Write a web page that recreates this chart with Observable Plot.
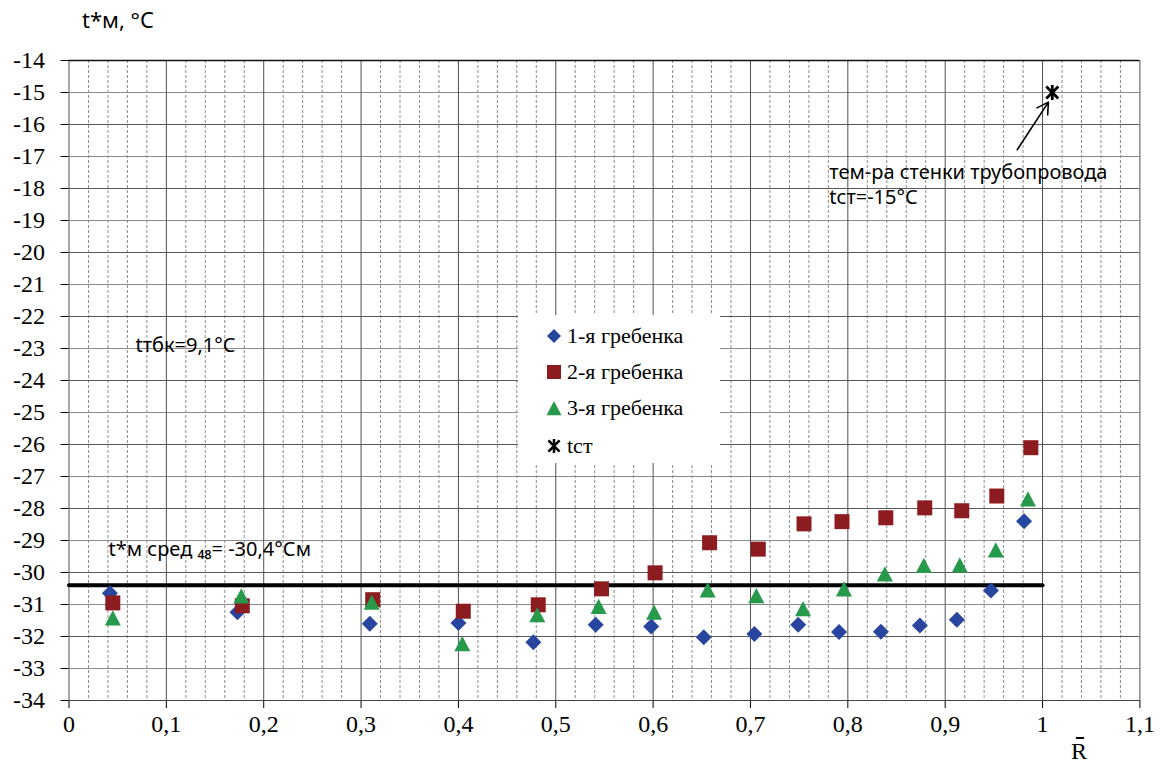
<!DOCTYPE html>
<html><head><meta charset="utf-8">
<script src="https://cdn.jsdelivr.net/npm/d3@7"></script>
<script src="https://cdn.jsdelivr.net/npm/@observablehq/plot@0.6"></script>
<style>
body{margin:0;background:#fff;}
#wrap{position:relative;width:1163px;height:767px;overflow:hidden;background:#fff;}
#wrap svg.plot{display:block;}
#title{position:absolute;left:82px;top:4px;font-family:"Noto Sans";font-size:22px;letter-spacing:0px;color:#000;white-space:nowrap;}
#legend{position:absolute;left:518px;top:315px;width:202px;height:148px;background:#fff;font-family:"Liberation Serif";font-size:22px;color:#000;}
#legend .row{position:absolute;left:27px;height:26px;display:flex;align-items:center;white-space:nowrap;}
#legend .row svg{width:18px;height:18px;margin-right:4px;flex:none;}
#rlab{position:absolute;left:1071px;top:738px;font-family:"Liberation Serif";font-size:24px;color:#000;}
#rbar{position:absolute;left:1076px;top:737px;width:8px;height:1.5px;background:#000;}
</style>
</head><body>
<div id="wrap">
  <div id="title">t*м, °C</div>
  <div id="legend"></div>
  <div id="rbar"></div>
  <div id="rlab">R</div>
</div>
<script>
// ---------- data ----------
const seriesNames = ["1-я гребенка", "2-я гребенка", "3-я гребенка", "tст"];
const seriesColors = ["#2846a0", "#8c1c20", "#27994a", "#000000"];

const xBlue = [0.042, 0.173, 0.309, 0.400, 0.477, 0.541, 0.598, 0.652, 0.704, 0.749, 0.791, 0.834, 0.874, 0.912, 0.947, 0.981];
const yBlue = [-30.65, -31.24, -31.60, -31.58, -32.18, -31.63, -31.69, -32.02, -31.92, -31.63, -31.86, -31.85, -31.66, -31.48, -30.56, -28.40];

const xRed = [0.045, 0.178, 0.312, 0.405, 0.482, 0.547, 0.602, 0.658, 0.708, 0.755, 0.794, 0.839, 0.879, 0.917, 0.953, 0.988];
const yRed = [-30.95, -31.04, -30.85, -31.21, -31.01, -30.51, -30.01, -29.07, -29.27, -28.48, -28.41, -28.29, -27.98, -28.07, -27.61, -26.10];

const xGreen = [0.045, 0.177, 0.311, 0.404, 0.481, 0.544, 0.601, 0.656, 0.706, 0.754, 0.796, 0.838, 0.878, 0.915, 0.952, 0.985];
const yGreen = [-31.42, -30.73, -30.93, -32.22, -31.32, -31.06, -31.24, -30.54, -30.72, -31.13, -30.51, -30.04, -29.78, -29.76, -29.29, -27.70];

const xWall = [1.01];
const yWall = [-15.0];

const meanValue = -30.4;
const meanX = [0, 1.0];

const xTickValues = [0, 0.1, 0.2, 0.3, 0.4, 0.5, 0.6, 0.7, 0.8, 0.9, 1.0, 1.1];
const xTickLabels = ["0", "0,1", "0,2", "0,3", "0,4", "0,5", "0,6", "0,7", "0,8", "0,9", "1", "1,1"];
const yTickValues = [-14, -15, -16, -17, -18, -19, -20, -21, -22, -23, -24, -25, -26, -27, -28, -29, -30, -31, -32, -33, -34];
const yTickLabels = ["-14", "-15", "-16", "-17", "-18", "-19", "-20", "-21", "-22", "-23", "-24", "-25", "-26", "-27", "-28", "-29", "-30", "-31", "-32", "-33", "-34"];

const annText = ["тем-ра стенки трубопровода", "tст=-15°C", "tтбк=9,1°C", "t*м сред ₄₈= -30,4°См"];
const annX = [0.781, 0.781, 0.0683, 0.0406];
const annY = [-17.49, -18.28, -22.9, -29.28];

const arrowFrom = [0.974, -16.79];
const arrowTo = [1.006, -15.30];

// ---------- build ----------
const zip = (xs, ys) => xs.map((x, i) => ({x, y: ys[i]}));
const blue = zip(xBlue, yBlue), red = zip(xRed, yRed), green = zip(xGreen, yGreen), wall = zip(xWall, yWall);
const ann = annText.map((t, i) => ({t, x: annX[i], y: annY[i]}));

const symDiamond = {draw(c, s) { const r = Math.sqrt(s / Math.PI); c.moveTo(0, -r); c.lineTo(r, 0); c.lineTo(0, r); c.lineTo(-r, 0); c.closePath(); }};
const symSquare = {draw(c, s) { const r = Math.sqrt(s / Math.PI); c.rect(-r, -r, 2 * r, 2 * r); }};
const symTriangle = {draw(c, s) { const r = Math.sqrt(s / Math.PI); c.moveTo(0, -r * 0.95); c.lineTo(r, r * 0.95); c.lineTo(-r, r * 0.95); c.closePath(); }};
const symStar = {draw(c, s) { const r = Math.sqrt(s / Math.PI); const d = r * 0.8;
  c.moveTo(0, -r); c.lineTo(0, r); c.moveTo(-d, -d); c.lineTo(d, d); c.moveTo(d, -d); c.lineTo(-d, d); }};

const minorX = d3.range(0, 111, 2).filter(i => i % 10 !== 0).map(i => i / 100);
const gridY = d3.range(-34, -13, 1);

const chart = Plot.plot({
  width: 1163, height: 767,
  marginTop: 60, marginBottom: 67, marginLeft: 68.5, marginRight: 23.6,
  style: {fontFamily: "Liberation Serif", fontSize: "24px", color: "#000", background: "transparent"},
  x: {domain: [0, 1.1], ticks: xTickValues, tickFormat: d => xTickLabels[xTickValues.indexOf(d)], tickSize: 8, tickPadding: 6, label: null},
  y: {domain: [-34, -14], ticks: yTickValues, tickFormat: d => yTickLabels[yTickValues.indexOf(d)], tickSize: 8, tickPadding: 16, label: null},
  marks: [
    Plot.ruleX(minorX, {stroke: "#8c8c8c", strokeDasharray: "3,2", strokeWidth: 1}),
    Plot.ruleY(gridY.filter(v => v % 2 !== 0), {stroke: "#8c8c8c", strokeWidth: 1}),
    Plot.ruleY(gridY.filter(v => v % 2 === 0), {stroke: "#5a5a5a", strokeWidth: 1}),
    Plot.ruleX(xTickValues, {stroke: "#505050", strokeWidth: 1}),
    Plot.ruleY([-14], {stroke: "#111", strokeWidth: 1.5}),
    Plot.ruleY([-34], {stroke: "#444", strokeWidth: 1.2}),
    Plot.line(meanX.map(x => ({x, y: meanValue})), {x: "x", y: "y", stroke: "#000", strokeWidth: 4}),
    Plot.dot(blue, {x: "x", y: "y", symbol: symDiamond, r: 8, fill: seriesColors[0], stroke: "none"}),
    Plot.dot(red, {x: "x", y: "y", symbol: symSquare, r: 7.5, fill: seriesColors[1], stroke: "none"}),
    Plot.dot(green, {x: "x", y: "y", symbol: symTriangle, r: 8, fill: seriesColors[2], stroke: "none"}),
    Plot.dot(wall, {x: "x", y: "y", symbol: symStar, r: 7.5, fill: "none", stroke: "#000", strokeWidth: 2.8}),
    Plot.arrow([{x1: arrowFrom[0], y1: arrowFrom[1], x2: arrowTo[0], y2: arrowTo[1]}], {x1: "x1", y1: "y1", x2: "x2", y2: "y2", stroke: "#000", strokeWidth: 1.6, headLength: 12, insetEnd: 0}),
    Plot.text(ann, {x: "x", y: "y", text: "t", textAnchor: "start", fontFamily: "Noto Sans", fontSize: 20, fill: "#000"})
  ]
});
const wrap = document.getElementById("wrap");
wrap.insertBefore(chart, wrap.firstChild);

// legend
const legend = document.getElementById("legend");
const rowCenters = [21, 57, 93, 131];
const legendSyms = [symDiamond, symSquare, symTriangle, symStar];
const legendR = [7, 7, 7.5, 7];
seriesNames.forEach((name, i) => {
  const row = document.createElement("div");
  row.className = "row";
  row.style.top = (rowCenters[i] - 13) + "px";
  const p = d3.path();
  legendSyms[i].draw(p, legendR[i] * legendR[i] * Math.PI);
  const filled = i < 3;
  row.innerHTML = `<svg viewBox="-9 -9 18 18"><path d="${p.toString()}" fill="${filled ? seriesColors[i] : "none"}" stroke="${filled ? "none" : "#000"}" stroke-width="2.5"/></svg><span>${name}</span>`;
  legend.appendChild(row);
});
</script>
</body></html>
